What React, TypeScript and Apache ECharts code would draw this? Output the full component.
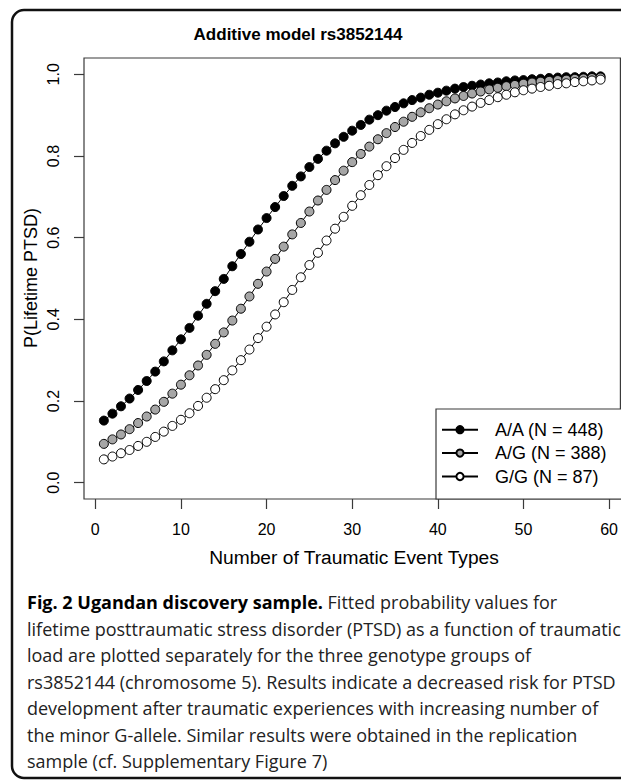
import React, { useEffect, useRef } from 'react';
import * as echarts from 'echarts';

// ---- data ----
const eventTypes = [
  1, 2, 3, 4, 5, 6, 7, 8, 9, 10, 11, 12, 13, 14, 15, 16, 17, 18, 19, 20,
  21, 22, 23, 24, 25, 26, 27, 28, 29, 30, 31, 32, 33, 34, 35, 36, 37, 38, 39, 40,
  41, 42, 43, 44, 45, 46, 47, 48, 49, 50, 51, 52, 53, 54, 55, 56, 57, 58, 59,
];
const probAA = [
  0.152, 0.169, 0.187, 0.206, 0.227, 0.249, 0.272, 0.297, 0.324, 0.351,
  0.379, 0.409, 0.438, 0.469, 0.499, 0.530, 0.560, 0.590, 0.620, 0.648,
  0.675, 0.702, 0.727, 0.750, 0.773, 0.793, 0.813, 0.831, 0.847, 0.862,
  0.876, 0.889, 0.900, 0.911, 0.920, 0.929, 0.937, 0.943, 0.950, 0.955,
  0.960, 0.965, 0.969, 0.972, 0.975, 0.978, 0.980, 0.983, 0.985, 0.986,
  0.988, 0.989, 0.991, 0.992, 0.993, 0.993, 0.994, 0.995, 0.995,
];
const probAG = [
  0.095, 0.106, 0.118, 0.131, 0.146, 0.162, 0.179, 0.198, 0.218, 0.240,
  0.263, 0.287, 0.313, 0.340, 0.368, 0.397, 0.426, 0.456, 0.487, 0.517,
  0.548, 0.578, 0.608, 0.636, 0.664, 0.691, 0.717, 0.741, 0.764, 0.785,
  0.805, 0.823, 0.841, 0.856, 0.871, 0.884, 0.896, 0.907, 0.917, 0.926,
  0.934, 0.941, 0.947, 0.953, 0.958, 0.963, 0.967, 0.971, 0.974, 0.977,
  0.980, 0.982, 0.984, 0.986, 0.987, 0.989, 0.990, 0.991, 0.992,
];
const probGG = [
  0.057, 0.064, 0.072, 0.080, 0.090, 0.100, 0.112, 0.125, 0.139, 0.154,
  0.170, 0.188, 0.208, 0.229, 0.251, 0.275, 0.300, 0.326, 0.354, 0.382,
  0.412, 0.442, 0.472, 0.503, 0.533, 0.563, 0.593, 0.622, 0.651, 0.678,
  0.704, 0.729, 0.753, 0.775, 0.795, 0.815, 0.832, 0.849, 0.864, 0.878,
  0.890, 0.902, 0.912, 0.921, 0.930, 0.937, 0.944, 0.950, 0.956, 0.961,
  0.965, 0.969, 0.972, 0.976, 0.978, 0.981, 0.983, 0.985, 0.987,
];
const seriesNames = ['A/A (N = 448)', 'A/G (N = 388)', 'G/G (N = 87)'];
const xTicks = [0, 10, 20, 30, 40, 50, 60];
const yTicks = [0, 0.2, 0.4, 0.6, 0.8, 1.0];
const chartTitle = 'Additive model rs3852144';
const xTitle = 'Number of Traumatic Event Types';
const yTitle = 'P(Lifetime PTSD)';
const captionBold = 'Fig. 2 Ugandan discovery sample.';
const captionLines = [
  ' Fitted probability values for',
  'lifetime posttraumatic stress disorder (PTSD) as a function of traumatic',
  'load are plotted separately for the three genotype groups of',
  'rs3852144 (chromosome 5). Results indicate a decreased risk for PTSD',
  'development after traumatic experiences with increasing number of',
  'the minor G-allele. Similar results were obtained in the replication',
  'sample (cf. Supplementary Figure 7)',
];

const SANS = "'Liberation Sans', Arial, Helvetica, sans-serif";
const CAP = "'Open Sans', 'Noto Sans', sans-serif";
const INK = '#3a3a3a';

export default function App() {
  const ref = useRef<HTMLDivElement>(null);

  useEffect(() => {
    const chart = echarts.init(ref.current!, null, { renderer: 'svg' });
    const fills = ['#000000', '#a6a6a6', '#ffffff'];
    const sets = [probAA, probAG, probGG];

    const series = sets.map((arr, k) => ({
      type: 'line',
      name: seriesNames[k],
      data: eventTypes.map((x, i) => [x, arr[i]]),
      symbol: 'circle',
      symbolSize: 9,
      showSymbol: true,
      showAllSymbol: true,
      lineStyle: { color: '#000', width: 1 },
      itemStyle: { color: fills[k], borderColor: '#000', borderWidth: 1 },
      emphasis: { disabled: true },
      silent: true,
      z: 2 + k,
    }));

    const captionGraphics = captionLines.map((line, i) => ({
      type: 'text',
      x: 27,
      y: 602 + i * 26.5,
      style: {
        text: i === 0 ? `{b|${captionBold}}${line}` : line,
        fontSize: 18,
        fontFamily: CAP,
        fill: '#222',
        verticalAlign: 'middle',
        rich: {
          b: { fontSize: 18, fontFamily: CAP, fontWeight: 'bold', fill: '#000' },
        },
      },
    }));

    chart.setOption({
      animation: false,
      backgroundColor: '#fff',
      grid: {
        left: 84,
        top: 58,
        width: 540,
        height: 441,
        show: true,
        borderColor: INK,
        borderWidth: 1.2,
        backgroundColor: 'transparent',
      },
      xAxis: {
        type: 'value',
        min: -1.32,
        max: 61.32,
        axisLine: { show: false, onZero: false },
        splitLine: { show: false },
        axisTick: {
          show: true,
          customValues: xTicks,
          length: 10,
          lineStyle: { color: INK, width: 1.2 },
        },
        axisLabel: {
          customValues: xTicks,
          margin: 22,
          fontSize: 16,
          fontFamily: SANS,
          color: '#000',
        },
      },
      yAxis: {
        type: 'value',
        min: -0.04,
        max: 1.04,
        axisLine: { show: false, onZero: false },
        splitLine: { show: false },
        axisTick: {
          show: true,
          customValues: yTicks,
          length: 10,
          lineStyle: { color: INK, width: 1.2 },
        },
        axisLabel: {
          customValues: yTicks,
          rotate: 90,
          margin: 23,
          fontSize: 16,
          fontFamily: SANS,
          color: '#000',
          formatter: (v: number) => v.toFixed(1),
        },
      },
      legend: {
        orient: 'vertical',
        left: 436,
        top: 413,
        itemWidth: 36,
        itemHeight: 9,
        itemGap: 0,
        selectedMode: false,
        data: seriesNames,
        textStyle: {
          fontSize: 18,
          fontFamily: SANS,
          color: '#000',
          lineHeight: 23.4,
          padding: [0, 0, 0, 12],
        },
      },
      graphic: [
        {
          type: 'rect',
          shape: { x: 12, y: 10, width: 640, height: 768, r: 12 },
          style: { fill: 'none', stroke: '#111', lineWidth: 2.5 },
          silent: true,
        },
        {
          type: 'rect',
          shape: { x: 436, y: 409, width: 200, height: 90 },
          style: { fill: '#fff', stroke: INK, lineWidth: 1.2 },
          silent: true,
          z: 1,
        },
        {
          type: 'text',
          x: 298,
          y: 34,
          style: {
            text: chartTitle,
            fontSize: 17,
            fontWeight: 'bold',
            fontFamily: SANS,
            fill: '#000',
            align: 'center',
            verticalAlign: 'middle',
          },
        },
        {
          type: 'text',
          x: 354,
          y: 557,
          style: {
            text: xTitle,
            fontSize: 19.2,
            fontFamily: SANS,
            fill: '#000',
            align: 'center',
            verticalAlign: 'middle',
          },
        },
        {
          type: 'text',
          x: 31,
          y: 278,
          rotation: Math.PI / 2,
          style: {
            text: yTitle,
            fontSize: 18,
            fontFamily: SANS,
            fill: '#000',
            align: 'center',
            verticalAlign: 'middle',
          },
        },
        ...captionGraphics,
      ],
      series,
    } as any);

    return () => chart.dispose();
  }, []);

  return (
    <div
      ref={ref}
      style={{ position: 'absolute', left: 0, top: 0, width: 621, height: 780, background: '#fff' }}
    />
  );
}
